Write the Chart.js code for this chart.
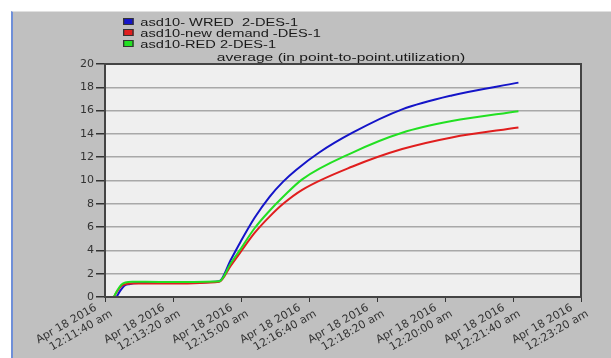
<!DOCTYPE html>
<html>
<head>
<meta charset="utf-8">
<script src="https://cdn.jsdelivr.net/npm/chart.js@4.4.0/dist/chart.umd.min.js"></script>
<style>
  body { margin: 0; background: #fff; width: 611px; height: 358px; overflow: hidden; font-family: "Liberation Sans", Arial, sans-serif; }
  #panel { position: absolute; left: 11px; top: 11px; width: 600px; height: 347px; background: #c0c0c0; border-left: 2px solid #6f8fd8; border-top: 1px solid #e0e0e0; }
  #chart { position: absolute; left: 0; top: 0; }
  #legend { position: absolute; left: 123px; top: 17px; font-size: 11px; color: #1a1a1a; line-height: 11px; white-space: pre; transform: scaleX(1.33); transform-origin: 0 0; }
  .sw { display: inline-block; width: 6px; height: 5px; border: 1px solid #333; margin-right: 5px; vertical-align: 1px; }
  #title { position: absolute; left: 141px; width: 400px; top: 51px; line-height: 13px; text-align: center; font-size: 11px; color: #1a1a1a; transform: scaleX(1.42); white-space: pre; }
</style>
</head>
<body>
<div id="panel">
  <canvas id="chart" width="600" height="347"></canvas>
</div>
<div id="legend"></div>
<div id="title">average (in point-to-point.utilization)</div>
<script>
// секунды от Apr 18 2016 12:11:40 am
const tickLabels = [
    ["Apr 18 2016", "12:11:40 am"],
    ["Apr 18 2016", "12:13:20 am"],
    ["Apr 18 2016", "12:15:00 am"],
    ["Apr 18 2016", "12:16:40 am"],
    ["Apr 18 2016", "12:18:20 am"],
    ["Apr 18 2016", "12:20:00 am"],
    ["Apr 18 2016", "12:21:40 am"],
    ["Apr 18 2016", "12:23:20 am"]
];

const wredTime = [17, 22, 28, 35, 50, 100, 168, 185, 198, 220, 242, 262, 281, 315, 364, 437, 510, 608];
const wredVals = [0, 0.5, 0.95, 1.1, 1.2, 1.2, 1.35, 3.2, 4.6, 6.8, 8.6, 9.9, 10.9, 12.4, 14.1, 16.1, 17.3, 18.4];

const demandTime = [13, 18, 24, 30, 40, 60, 100, 168, 185, 198, 220, 242, 262, 290, 364, 437, 510, 608];
const demandVals = [0, 0.5, 0.95, 1.1, 1.15, 1.15, 1.15, 1.3, 2.7, 3.75, 5.5, 6.9, 8.0, 9.2, 11.2, 12.7, 13.7, 14.55];

const redTime = [13, 18, 24, 30, 40, 60, 100, 168, 185, 198, 220, 242, 262, 290, 364, 437, 510, 608];
const redVals = [0, 0.55, 1.05, 1.25, 1.3, 1.3, 1.28, 1.35, 2.9, 4.0, 5.9, 7.4, 8.6, 10.1, 12.4, 14.1, 15.1, 15.95];

const seriesNames = ["asd10- WRED  2-DES-1", "asd10-new demand -DES-1", "asd10-RED 2-DES-1"];
const seriesColors = ["#1414c8", "#e01e1e", "#22e022"];

function pts(t, v) {
    return t.map((x, i) => ({ x: x, y: v[i] }));
}

// легенда
const legend = document.getElementById("legend");
seriesNames.forEach((name, i) => {
    const row = document.createElement("div");
    row.innerHTML = '<span class="sw" style="background:' + seriesColors[i] + '"></span>' + name;
    legend.appendChild(row);
});

const plotBg = {
    id: "plotBg",
    beforeDraw(c) {
        const a = c.chartArea, ctx = c.ctx;
        ctx.save();
        ctx.fillStyle = "#efefef";
        ctx.fillRect(a.left, a.top, a.right - a.left, a.bottom - a.top);
        ctx.restore();
    },
    afterDraw(c) {
        const a = c.chartArea, ctx = c.ctx;
        ctx.save();
        ctx.strokeStyle = "#444";
        ctx.lineWidth = 2;
        ctx.strokeRect(a.left, a.top, a.right - a.left, a.bottom - a.top);
        ctx.restore();
    }
};

const lineOpts = { borderWidth: 2, pointRadius: 0, cubicInterpolationMode: "monotone", fill: false };

new Chart(document.getElementById("chart"), {
    type: "line",
    data: {
        datasets: [
            Object.assign({ label: seriesNames[2], data: pts(redTime, redVals), borderColor: seriesColors[2] }, lineOpts),
            Object.assign({ label: seriesNames[1], data: pts(demandTime, demandVals), borderColor: seriesColors[1] }, lineOpts),
            Object.assign({ label: seriesNames[0], data: pts(wredTime, wredVals), borderColor: seriesColors[0] }, lineOpts)
        ]
    },
    options: {
        responsive: false,
        animation: false,
        layout: { padding: { left: 0, right: 32, top: 52, bottom: 0 } },
        plugins: {
            legend: { display: false },
            tooltip: { enabled: false },
            title: { display: false }
        },
        scales: {
            x: {
                type: "linear",
                min: 0,
                max: 700,
                afterFit: s => { s.height = 62; },
                afterBuildTicks: s => { s.ticks = tickLabels.map((_, i) => ({ value: i * 100 })); },
                ticks: {
                    maxRotation: 30,
                    minRotation: 30,
                    color: "#333",
                    font: { family: "DejaVu Sans", size: 11 },
                    padding: -6,
                    // первая строка чуть сдвинута влево, как в оригинале
                    callback: (v) => {
                        const l = tickLabels[Math.round(v / 100)];
                        return [l[0] + "   ", l[1]];
                    }
                },
                grid: { drawOnChartArea: false, color: "#333", tickLength: 5, tickColor: "#333" },
                border: { display: false }
            },
            y: {
                min: 0,
                max: 20,
                afterFit: s => { s.width = 92; },
                ticks: {
                    stepSize: 2,
                    color: "#333",
                    font: { family: "DejaVu Sans", size: 11 },
                    padding: 2
                },
                grid: { color: "#a8a8a8", lineWidth: 1.5, tickLength: 9, tickColor: "#333" },
                border: { display: false }
            }
        }
    },
    plugins: [plotBg]
});
</script>
</body>
</html>
